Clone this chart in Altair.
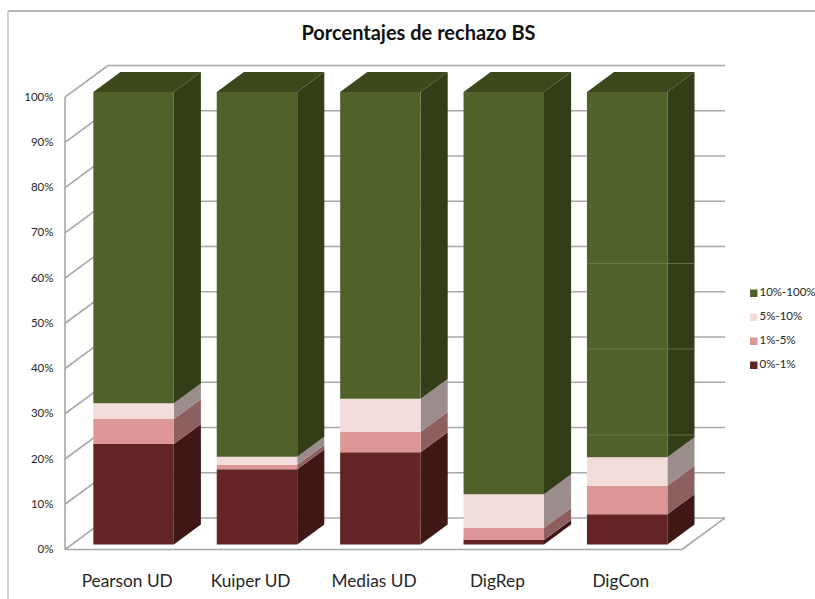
import json
import altair as alt
import numpy as np
import pandas as pd

# Categories and stacked segment sizes (percent of rejections)
methods = ["Pearson UD", "Kuiper UD", "Medias UD", "DigRep", "DigCon"]
series = ["0%-1%", "1%-5%", "5%-10%", "10%-100%"]
pct_0_1 = [22.2, 16.6, 20.4, 1.0, 6.7]
pct_1_5 = [5.5, 1.0, 4.5, 2.7, 6.3]
pct_5_10 = [3.5, 1.8, 7.3, 7.4, 6.3]
pct_10_100 = [68.8, 80.6, 67.8, 88.9, 80.7]
digcon_seams = [24.2, 43.2, 62.1]
y_ticks = list(range(0, 101, 10))

front_colors = ["#622424", "#dc9695", "#f3dcdc", "#50622a"]
side_colors = ["#3f1715", "#8e5f5f", "#9c8d8d", "#333d17"]
top_color = "#3d481d"
wall_color = "#a8a8a8"
font = "Lato"
text_color = "#262626"

# Oblique projection: full depth of the box in data units
DEPTH_X = 0.3485
DEPTH_Y = 6.97
# Bars occupy this fraction of the depth
D0, D1 = 0.16, 0.79
BAR_LEFT, BAR_WIDTH = 0.174, 0.652
n = len(methods)
X_MAX = n + DEPTH_X
Y_MAX = 100 + DEPTH_Y

x_scale = alt.Scale(domain=[0, X_MAX], nice=False, zero=False)
y_scale = alt.Scale(domain=[0, Y_MAX], nice=False, zero=False)
x_axis = alt.Axis(
    values=[i + 0.5 for i in range(n)],
    labelExpr=f"{json.dumps(methods)}[floor(datum.value)]",
    domain=False, ticks=False, grid=False, title=None,
    labelFont=font, labelFontSize=17.3, labelColor=text_color, labelPadding=23,
    labelOverlap=False, labelFlush=False,
)
y_axis = alt.Axis(
    values=y_ticks,
    labelExpr="datum.value + '%'",
    domain=False, ticks=False, grid=False, title=None,
    labelFont=font, labelFontSize=11.5, labelColor=text_color, labelPadding=12,
    labelOverlap=False, labelFlush=False,
)


def X(field):
    return alt.X(field, type="quantitative", scale=x_scale, axis=x_axis)


def Y(field):
    return alt.Y(field, type="quantitative", scale=y_scale, axis=y_axis)


# Box walls: back wall and left wall gridlines, floor outline
wall_rows = []
for t in y_ticks:
    wall_rows.append(dict(x0=0, y0=t, x1=DEPTH_X, y1=t + DEPTH_Y))
    wall_rows.append(dict(x0=DEPTH_X, y0=t + DEPTH_Y, x1=X_MAX, y1=t + DEPTH_Y))
wall_rows.append(dict(x0=0, y0=0, x1=0, y1=100))
wall_rows.append(dict(x0=0, y0=0, x1=n, y1=0))
wall_rows.append(dict(x0=n, y0=0, x1=X_MAX, y1=DEPTH_Y))
walls = (
    alt.Chart(pd.DataFrame(wall_rows))
    .mark_rule(color=wall_color, strokeWidth=1.6)
    .encode(x=X("x0"), x2=alt.X2("x1"), y=Y("y0"), y2=alt.Y2("y1"))
)

# Stack boundaries
segments = np.array([pct_0_1, pct_1_5, pct_5_10, pct_10_100])
upper = segments.cumsum(axis=0)
lower = upper - segments

front_rows, top_rows, side_layers = [], [], []
for s, name in enumerate(series):
    side_rows = []
    for i in range(n):
        left = i + BAR_LEFT + D0 * DEPTH_X
        right = left + BAR_WIDTH
        front_rows.append(dict(
            series=name, x0=left, x1=right,
            y0=lower[s, i] + D0 * DEPTH_Y, y1=upper[s, i] + D0 * DEPTH_Y,
        ))
        for d in (D0, D1):
            side_rows.append(dict(
                bar=i,
                x=i + BAR_LEFT + BAR_WIDTH + d * DEPTH_X,
                y0=lower[s, i] + d * DEPTH_Y,
                y1=upper[s, i] + d * DEPTH_Y,
            ))
    side_layers.append(
        alt.Chart(pd.DataFrame(side_rows))
        .mark_area(color=side_colors[s], opacity=1)
        .encode(x=X("x"), y=Y("y0"), y2=alt.Y2("y1"), detail="bar:N")
    )

# Top faces of the bars
for i in range(n):
    for d in (D0, D1):
        left = i + BAR_LEFT + d * DEPTH_X
        top_rows.append(dict(
            bar=i, x0=left, x1=left + BAR_WIDTH,
            y=upper[-1, i] + d * DEPTH_Y,
        ))
tops = (
    alt.Chart(pd.DataFrame(top_rows))
    .mark_area(color=top_color, orient="horizontal", opacity=1)
    .encode(x=X("x0"), x2=alt.X2("x1"), y=Y("y"), detail="bar:N")
)

# Front faces carry the legend
fronts = (
    alt.Chart(pd.DataFrame(front_rows))
    .mark_bar(opacity=1)
    .encode(
        x=X("x0"), x2=alt.X2("x1"), y=Y("y0"), y2=alt.Y2("y1"),
        color=alt.Color(
            "series:N",
            scale=alt.Scale(domain=series[::-1], range=front_colors[::-1]),
            legend=alt.Legend(
                orient="none", legendX=683, legendY=222, title=None,
                labelFont=font, labelFontSize=11.5, labelColor=text_color,
                symbolType="square", symbolSize=56, symbolStrokeWidth=0,
                rowPadding=11, labelOffset=0, padding=0,
            ),
        ),
    )
)

# Faint seams across the last bar
last = n - 1
seam_rows = [
    dict(
        x0=last + BAR_LEFT + D0 * DEPTH_X,
        x1=last + BAR_LEFT + BAR_WIDTH + D1 * DEPTH_X,
        y=v + D0 * DEPTH_Y,
    )
    for v in digcon_seams
]
seams = (
    alt.Chart(pd.DataFrame(seam_rows))
    .mark_rule(color="#6f8050", strokeWidth=0.8)
    .encode(x=X("x0"), x2=alt.X2("x1"), y=Y("y"))
)

# Outer frame of the figure
frame_top = (
    alt.Chart(pd.DataFrame({"v": [0]}))
    .mark_rule(color="#b5b5b5", strokeWidth=2)
    .encode(x=alt.value(-57), x2=alt.value(750), y=alt.value(-54.5))
)
frame_left = (
    alt.Chart(pd.DataFrame({"v": [0]}))
    .mark_rule(color="#d0d0d0", strokeWidth=2)
    .encode(x=alt.value(-57), y=alt.value(-54.5), y2=alt.value(534))
)

chart = (
    alt.layer(walls, *side_layers, tops, fronts, seams, frame_top, frame_left)
    .properties(
        width=660,
        height=484,
        padding={"left": 65, "right": 90, "top": 65.5, "bottom": 49.5},
        autosize=alt.AutoSizeParams(type="none"),
        background="white",
        title=alt.TitleParams(
            "Porcentajes de rechazo BS",
            anchor="middle", frame="group", dx=23.5, offset=-34,
            font=font, fontSize=20, fontWeight="bold", color="#111111",
        ),
    )
    .configure_view(stroke=None)
)

chart.save("out.html", embed_options={"renderer": "svg", "actions": False})
